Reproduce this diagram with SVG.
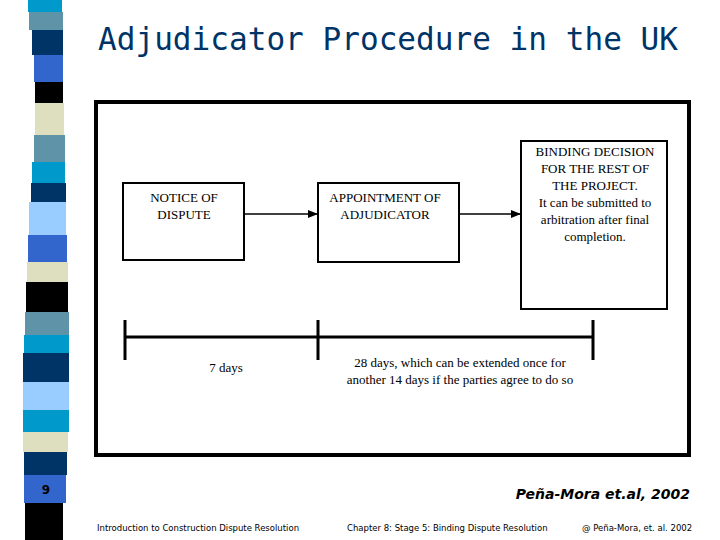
<svg xmlns="http://www.w3.org/2000/svg" width="720" height="540" viewBox="0 0 720 540">
<style>
.t{font-family:'Liberation Serif','Times New Roman',serif;font-size:13px;fill:#000;text-anchor:middle}
.box{fill:#fff;stroke:#000;stroke-width:2}
.ln{stroke:#000;stroke-width:3;fill:none}
.f{font-family:'DejaVu Sans',sans-serif;font-size:8.5px;fill:#000}
</style>
<defs><marker id="a" markerWidth="10" markerHeight="8" refX="9" refY="4" orient="auto" markerUnits="userSpaceOnUse"><path d="M0,0L10,4L0,8z" fill="#000"/></marker></defs>
<rect width="720" height="540" fill="#fff"/>
<g id="strip">
<rect x="28" y="0" width="34" height="12" fill="#0099cc"/>
<rect x="29" y="12" width="34" height="18" fill="#5f93a8"/>
<rect x="32" y="30" width="31" height="25" fill="#003366"/>
<rect x="34" y="55" width="29" height="27" fill="#3366cc"/>
<rect x="35" y="82" width="28" height="21" fill="#000"/>
<rect x="35" y="103" width="29" height="32" fill="#dddfbf"/>
<rect x="34" y="135" width="31" height="27" fill="#5f93a8"/>
<rect x="32" y="162" width="33" height="21" fill="#0099cc"/>
<rect x="31" y="183" width="35" height="19" fill="#003366"/>
<rect x="29" y="202" width="37" height="33" fill="#99ccff"/>
<rect x="28" y="235" width="39" height="27" fill="#3366cc"/>
<rect x="27" y="262" width="41" height="20" fill="#dddfbf"/>
<rect x="26" y="282" width="42" height="30" fill="#000"/>
<rect x="25" y="312" width="44" height="23" fill="#5f93a8"/>
<rect x="24" y="335" width="45" height="18" fill="#0099cc"/>
<rect x="23" y="353" width="46" height="29" fill="#003366"/>
<rect x="23" y="382" width="46" height="28" fill="#99ccff"/>
<rect x="23" y="410" width="46" height="22" fill="#0099cc"/>
<rect x="23" y="432" width="45" height="20" fill="#dddfbf"/>
<rect x="24" y="452" width="43" height="23" fill="#003366"/>
<rect x="24" y="475" width="42" height="28" fill="#3366cc"/>
<rect x="25" y="503" width="38" height="37" fill="#000"/>
<text x="46" y="494" font-family="DejaVu Sans,sans-serif" font-weight="bold" font-size="12" fill="#000" text-anchor="middle">9</text>
</g>
<text x="98" y="50" font-family="DejaVu Sans Mono,monospace" font-size="32" fill="#003366" textLength="580" lengthAdjust="spacingAndGlyphs">Adjudicator Procedure in the UK</text>
<rect id="frame" x="96" y="102" width="593" height="353" fill="none" stroke="#000" stroke-width="4"/>
<g id="notice"><rect class="box" x="123" y="183" width="121" height="77"/>
<text class="t" x="184" y="202">NOTICE OF</text><text class="t" x="184" y="219">DISPUTE</text></g>
<g id="appoint"><rect class="box" x="318" y="183" width="141" height="79"/>
<text class="t" x="385" y="202">APPOINTMENT OF</text><text class="t" x="385" y="219">ADJUDICATOR</text></g>
<g id="binding"><rect class="box" x="521" y="141" width="146" height="168"/>
<text class="t" x="595" y="156">BINDING DECISION</text><text class="t" x="595" y="173">FOR THE REST OF</text><text class="t" x="595" y="190">THE PROJECT.</text><text class="t" x="595" y="207">It can be submitted to</text><text class="t" x="595" y="224">arbitration after final</text><text class="t" x="595" y="241">completion.</text></g>
<g id="connectors">
<line x1="244" y1="214" x2="317" y2="214" stroke="#000" stroke-width="1.5" marker-end="url(#a)"/>
<line x1="459" y1="214" x2="520" y2="214" stroke="#000" stroke-width="1.5" marker-end="url(#a)"/>
<path class="ln" d="M125,337H593M125,320V360M318,320V360M593,320V360"/>
</g>
<text class="t" x="226" y="372">7 days</text>
<text class="t" x="460" y="367">28 days, which can be extended once for</text>
<text class="t" x="460" y="384">another 14 days if the parties agree to do so</text>
<text x="690" y="499" font-family="DejaVu Sans,sans-serif" font-style="italic" font-weight="bold" font-size="14" text-anchor="end">Peña-Mora et.al, 2002</text>
<text class="f" x="97" y="531">Introduction to Construction Dispute Resolution</text>
<text class="f" x="347" y="531">Chapter 8: Stage 5: Binding Dispute Resolution</text>
<text class="f" x="582" y="531">@ Peña-Mora, et. al. 2002</text>
</svg>
